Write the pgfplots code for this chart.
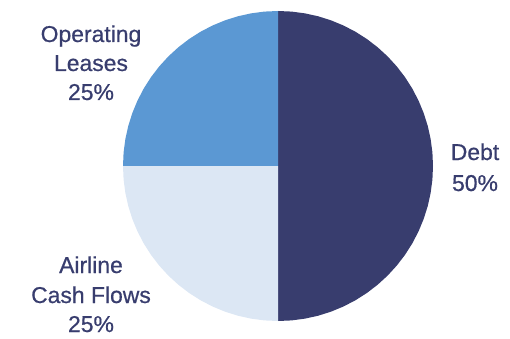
\documentclass[border=0pt]{standalone}
\usepackage{pgfplots}
\pgfplotsset{compat=1.18}
\usepackage{fontspec}
\setmainfont[FakeBold=0.6,BoldFont={Liberation Sans}]{Liberation Sans}
\definecolor{navy}{HTML}{383D6E}
\definecolor{midblue}{HTML}{5B98D3}
\definecolor{paleblue}{HTML}{DCE7F4}
\begin{document}
\begin{tikzpicture}
\begin{axis}[
  scale only axis, width=510bp, height=338bp,
  xmin=-278, xmax=232, ymin=-172, ymax=166,
  hide axis, clip=false,
  every axis plot/.append style={draw=none},
]
% Debt 50% (90 deg to -90 deg)
\addplot[fill=navy, data cs=polar] coordinates {
 (0,0) (90,155) (85,155) (80,155) (75,155) (70,155) (65,155) (60,155) (55,155) (50,155) (45,155)
 (40,155) (35,155) (30,155) (25,155) (20,155) (15,155) (10,155) (5,155) (0,155)
 (-5,155) (-10,155) (-15,155) (-20,155) (-25,155) (-30,155) (-35,155) (-40,155) (-45,155)
 (-50,155) (-55,155) (-60,155) (-65,155) (-70,155) (-75,155) (-80,155) (-85,155) (-90,155)
} -- cycle;
% Operating Leases 25% (90 to 180)
\addplot[fill=midblue, data cs=polar] coordinates {
 (0,0) (90,155) (95,155) (100,155) (105,155) (110,155) (115,155) (120,155) (125,155) (130,155)
 (135,155) (140,155) (145,155) (150,155) (155,155) (160,155) (165,155) (170,155) (175,155) (180,155)
} -- cycle;
% Airline Cash Flows 25% (180 to 270)
\addplot[fill=paleblue, data cs=polar] coordinates {
 (0,0) (180,155) (185,155) (190,155) (195,155) (200,155) (205,155) (210,155) (215,155) (220,155)
 (225,155) (230,155) (235,155) (240,155) (245,155) (250,155) (255,155) (260,155) (265,155) (270,155)
} -- cycle;
\path (rel axis cs:0,0) rectangle (rel axis cs:1,1);
\begin{scope}[every node/.style={anchor=base, text=navy, font=\fontsize{23}{27}\selectfont, inner sep=0pt}]
\node at (axis cs:-187,124) {Operating};
\node at (axis cs:-187,95) {Leases};
\node at (axis cs:-187,66) {25\%};
\node at (axis cs:197,6) {Debt};
\node at (axis cs:197,-25) {50\%};
\node at (axis cs:-187,-107) {Airline};
\node at (axis cs:-187,-137) {Cash Flows};
\node at (axis cs:-187,-166) {25\%};
\end{scope}
\end{axis}
\end{tikzpicture}
\end{document}
